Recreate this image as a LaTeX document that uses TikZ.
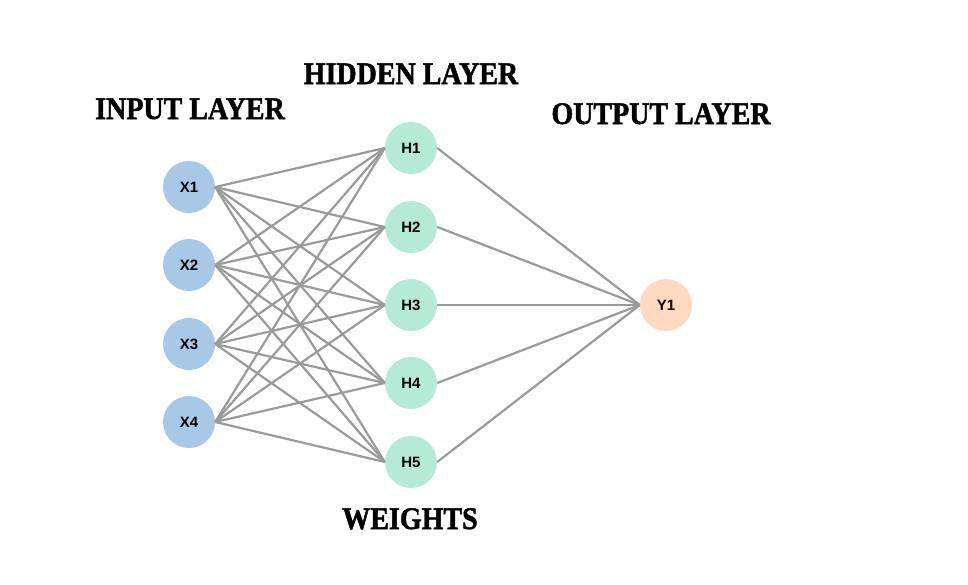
\documentclass[tikz,border=0pt]{standalone}
\usepackage{fontspec}
\setmainfont{Liberation Serif}
\newfontfamily\titlefont[FakeBold=1.6]{Liberation Serif Bold}
\newfontfamily\nodefont{Liberation Sans}
\definecolor{inblue}{HTML}{A8C8E8}
\definecolor{hidgreen}{HTML}{B5EAD7}
\definecolor{outpeach}{HTML}{FFDAC1}
\definecolor{edgegray}{HTML}{9A9A9A}
\begin{document}
\begin{tikzpicture}[x=1pt,y=-1pt,
  neuron/.style={circle,minimum size=52pt,inner sep=0pt,draw=none,
    font=\nodefont\bfseries\fontsize{15}{17}\selectfont},
  inneuron/.style={neuron,fill=inblue},
  hidneuron/.style={neuron,fill=hidgreen},
  outneuron/.style={neuron,fill=outpeach},
  edge/.style={draw=edgegray,line width=2.2pt},
  title/.style={anchor=base,inner sep=0pt,font=\titlefont\fontsize{28}{30}\selectfont}]
\useasboundingbox (0,0) rectangle (968,584);
\node[inneuron] (x1) at (189,187) {X1};
\node[inneuron] (x2) at (189,265) {X2};
\node[inneuron] (x3) at (189,344) {X3};
\node[inneuron] (x4) at (189,422) {X4};
\node[hidneuron] (h1) at (411,148) {H1};
\node[hidneuron] (h2) at (411,227) {H2};
\node[hidneuron] (h3) at (411,305) {H3};
\node[hidneuron] (h4) at (411,383) {H4};
\node[hidneuron] (h5) at (411,462) {H5};
\node[outneuron] (y1) at (666,305) {Y1};
\foreach \i in {1,...,4}{
  \foreach \j in {1,...,5}{
    \draw[edge] (x\i.east) -- (h\j.west);
  }
}
\foreach \j in {1,...,5}{
  \draw[edge] (h\j.east) -- (y1.west);
}
\node[title] (tin) at (190,119) {\scalebox{1}[1.12]{INPUT LAYER}};
\node[title] (thid) at (411,84) {\scalebox{1}[1.12]{HIDDEN LAYER}};
\node[title] (tout) at (661,124) {\scalebox{1}[1.12]{OUTPUT LAYER}};
\node[title] (tw) at (410,529) {\scalebox{1}[1.12]{WEIGHTS}};
\end{tikzpicture}
\end{document}
